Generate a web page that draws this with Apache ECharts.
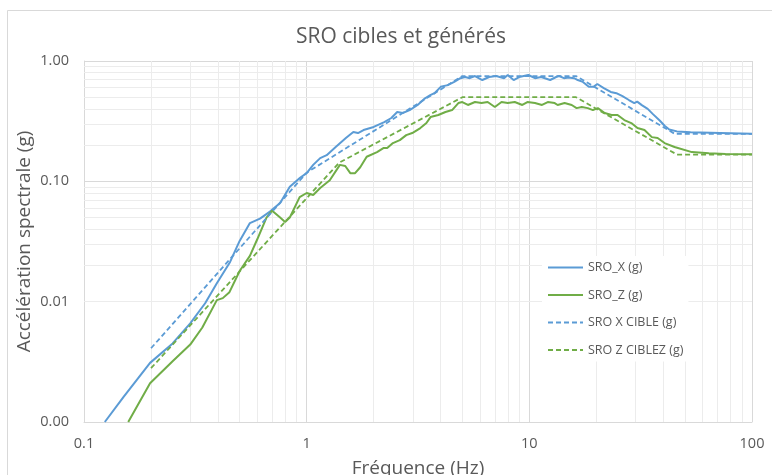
<!DOCTYPE html>
<html><head><meta charset="utf-8">
<script src="https://cdn.jsdelivr.net/npm/echarts@6/dist/echarts.min.js"></script>
<style>html,body{margin:0;padding:0;background:#fff}#c{width:772px;height:475px}</style>
</head><body><div id="c"></div>
<script>
const titleText = 'SRO cibles et générés';
const xName = 'Fréquence (Hz)';
const yName = 'Accélération spectrale (g)';
const seriesNames = ['SRO_X (g)', 'SRO_Z (g)', 'SRO X CIBLE (g)', 'SRO Z CIBLEZ (g)'];

const freqX = [0.124,0.15,0.198,0.25,0.30,0.35,0.395,0.453,0.50,0.556,0.617,0.684,0.76,0.84,0.934,1.0,1.07,1.15,1.23,1.35,1.5,1.62,1.7,1.8,2.0,2.23,2.4,2.55,2.7,2.9,3.15,3.4,3.59,3.75,4.0,4.3,4.6,4.9,5.15,5.4,5.7,6.15,6.6,7.1,7.7,8.0,8.5,9.0,9.9,10.6,11.3,12.4,13.2,13.6,14.3,15.0,15.9,16.5,17.4,18.5,19.4,20.2,21.6,23.2,24.6,26.2,28.0,29.6,30.5,32,34,36,38.5,40.5,42.5,46,53,72,100];
const sroX = [0.001,0.0016,0.0031,0.0045,0.0066,0.0097,0.0142,0.0214,0.032,0.045,0.049,0.056,0.066,0.090,0.107,0.117,0.137,0.156,0.165,0.193,0.229,0.257,0.252,0.267,0.283,0.311,0.336,0.377,0.37,0.391,0.431,0.49,0.52,0.54,0.61,0.63,0.67,0.72,0.736,0.72,0.75,0.695,0.736,0.75,0.72,0.765,0.695,0.736,0.765,0.72,0.736,0.695,0.736,0.75,0.72,0.73,0.72,0.695,0.67,0.61,0.61,0.644,0.596,0.553,0.54,0.51,0.474,0.447,0.46,0.43,0.40,0.36,0.32,0.29,0.27,0.26,0.256,0.252,0.248];

const freqZ = [0.158,0.198,0.25,0.30,0.34,0.395,0.42,0.45,0.50,0.556,0.60,0.66,0.70,0.76,0.80,0.84,0.93,1.0,1.07,1.15,1.27,1.41,1.49,1.57,1.65,1.74,1.86,2.07,2.21,2.3,2.44,2.62,2.8,2.98,3.24,3.45,3.6,3.9,4.2,4.5,4.8,5.0,5.3,5.7,6.1,6.5,7.0,7.5,8.0,8.6,9.3,9.8,10.6,11.4,12.1,13.0,13.4,14.4,15.5,16.3,17.2,18.3,19.3,20.3,21.8,23.4,24.9,26.7,28.7,30.6,32.9,35.5,37.7,40.5,44.9,53.7,64,76,100];
const sroZ = [0.001,0.0021,0.0032,0.0044,0.0061,0.0103,0.0107,0.012,0.018,0.024,0.033,0.050,0.057,0.050,0.046,0.050,0.074,0.080,0.077,0.088,0.102,0.137,0.134,0.117,0.117,0.131,0.16,0.175,0.189,0.189,0.208,0.22,0.242,0.252,0.277,0.305,0.342,0.356,0.377,0.391,0.447,0.456,0.431,0.456,0.447,0.456,0.415,0.456,0.447,0.456,0.431,0.456,0.447,0.431,0.456,0.447,0.431,0.447,0.431,0.406,0.415,0.406,0.391,0.406,0.37,0.356,0.356,0.323,0.305,0.277,0.267,0.233,0.229,0.208,0.193,0.175,0.171,0.169,0.168];

const freqCibleX = [0.2, 1.0, 5.0, 16.2, 45, 100];
const cibleX = [0.0041, 0.118, 0.75, 0.75, 0.248, 0.248];
const freqCibleZ = [0.2, 1.4, 5.0, 16.2, 46, 100];
const cibleZ = [0.0028, 0.143, 0.50, 0.50, 0.167, 0.167];

const xTicksMinor = [0.2,0.3,0.4,0.5,0.6,0.7,0.8,0.9,2,3,4,5,6,7,8,9,20,30,40,50,60,70,80,90];
const yTicksMinor = [0.002,0.003,0.004,0.005,0.006,0.007,0.008,0.009,0.02,0.03,0.04,0.05,0.06,0.07,0.08,0.09,0.2,0.3,0.4,0.5,0.6,0.7,0.8,0.9];

const pairs = (xs, ys) => xs.map((x, i) => [x, ys[i]]);
const FONT = '"Open Sans", "Noto Sans", sans-serif';
const BLUE = '#5B9BD5', GREEN = '#70AD47';

const chart = echarts.init(document.getElementById('c'), null, {renderer: 'canvas'});
chart.setOption({
  animation: false,
  backgroundColor: '#fff',
  graphic: [{
    type: 'rect', z: -10, silent: true,
    shape: {x: 7.5, y: 10.5, width: 800, height: 500},
    style: {fill: 'none', stroke: '#d9d9d9', lineWidth: 1}
  }],
  title: {
    text: titleText, left: 396, top: 22, textAlign: 'center',
    textStyle: {fontFamily: FONT, fontSize: 21, fontWeight: 'normal', color: '#595959'}
  },
  grid: {left: 84, right: 20, top: 61, bottom: 53, containLabel: false, outerBoundsMode: 'none'},
  legend: {
    orient: 'vertical', left: 542, top: 256, padding: 5, z: 20,
    backgroundColor: '#fff', itemWidth: 35, itemHeight: 14, itemGap: 14.5,
    itemStyle: {opacity: 0},
    data: seriesNames,
    textStyle: {fontFamily: FONT, fontSize: 12.5, color: '#595959'}
  },
  xAxis: {
    type: 'log', logBase: 10, min: 0.1, max: 100,
    name: xName, nameLocation: 'middle', nameGap: 37, nameMoveOverlap: false,
    nameTextStyle: {fontFamily: FONT, fontSize: 19, color: '#595959'},
    axisLine: {show: true, lineStyle: {color: '#d9d9d9'}},
    axisTick: {show: false},
    axisLabel: {fontFamily: FONT, fontSize: 14.5, color: '#595959', margin: 14,
      formatter: v => String(+(+v).toPrecision(3))},
    splitLine: {show: true, lineStyle: {color: '#d9d9d9', width: 1}}
  },
  yAxis: {
    type: 'log', logBase: 10, min: 0.001, max: 1,
    name: yName, nameLocation: 'middle', nameGap: 50, nameMoveOverlap: false,
    nameTextStyle: {fontFamily: FONT, fontSize: 19, color: '#595959'},
    axisLine: {show: true, lineStyle: {color: '#d9d9d9'}},
    axisTick: {show: false},
    axisLabel: {fontFamily: FONT, fontSize: 14.5, color: '#595959', margin: 15,
      formatter: v => (+v).toFixed(2)},
    splitLine: {show: true, lineStyle: {color: '#d9d9d9', width: 1}}
  },
  series: [
    {
      name: '_grid', type: 'line', data: [], z: 1, silent: true,
      markLine: {
        silent: true, symbol: ['none', 'none'], animation: false, z: 1,
        label: {show: false},
        lineStyle: {color: '#ececec', width: 1, type: 'solid'},
        emphasis: {disabled: true},
        data: xTicksMinor.map(v => ({xAxis: v})).concat(yTicksMinor.map(v => ({yAxis: v})))
      }
    },
    {name: seriesNames[0], type: 'line', z: 3, data: pairs(freqX, sroX), symbol: 'none', showSymbol: false,
      lineStyle: {color: BLUE, width: 2}, itemStyle: {color: BLUE}},
    {name: seriesNames[1], type: 'line', z: 3, data: pairs(freqZ, sroZ), symbol: 'none', showSymbol: false,
      lineStyle: {color: GREEN, width: 2}, itemStyle: {color: GREEN}},
    {name: seriesNames[2], type: 'line', z: 3, data: pairs(freqCibleX, cibleX), symbol: 'none', showSymbol: false,
      lineStyle: {color: BLUE, width: 1.8, type: [5, 3]}, itemStyle: {color: BLUE}},
    {name: seriesNames[3], type: 'line', z: 3, data: pairs(freqCibleZ, cibleZ), symbol: 'none', showSymbol: false,
      lineStyle: {color: GREEN, width: 1.8, type: [5, 3]}, itemStyle: {color: GREEN}}
  ]
});
</script></body></html>
